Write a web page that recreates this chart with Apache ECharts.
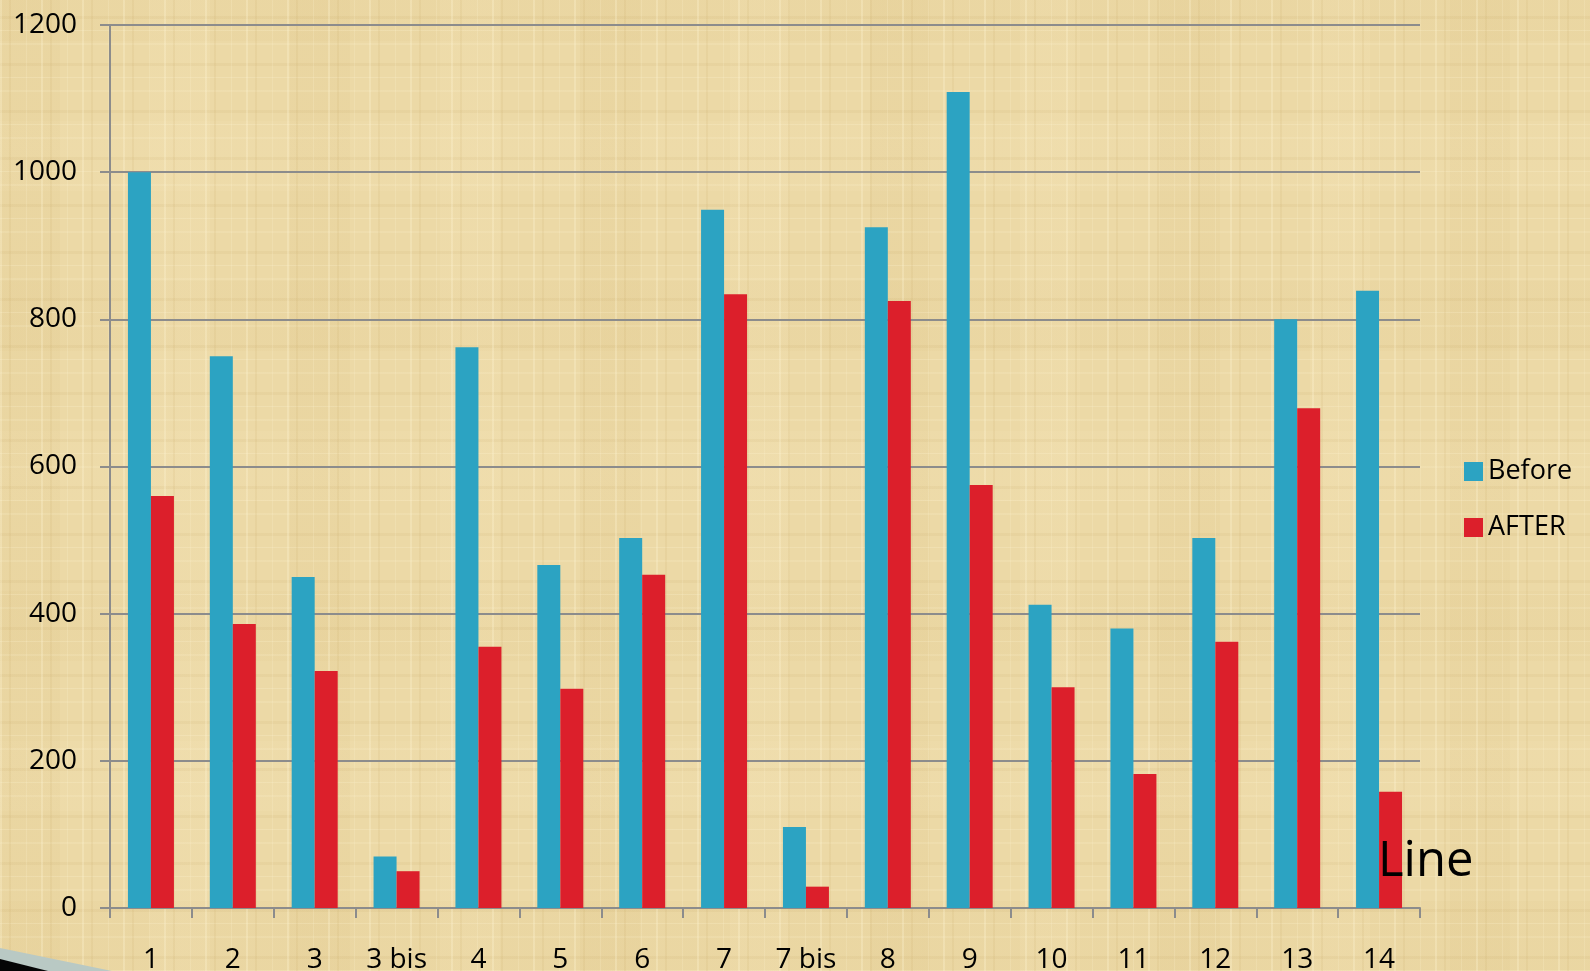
<!DOCTYPE html>
<html>
<head>
<meta charset="utf-8">
<script src="https://cdn.jsdelivr.net/npm/echarts@6/dist/echarts.min.js"></script>
<style>
  html, body { margin: 0; padding: 0; width: 1590px; height: 971px; overflow: hidden; }
  body {
    background-color: #ecd9a6;
    background-image:
      repeating-linear-gradient(90deg, rgba(255,246,214,0.28) 0 2px, transparent 2px 9px, rgba(196,164,96,0.12) 9px 11px, transparent 11px 26px, rgba(255,246,214,0.18) 26px 27px, transparent 27px 41px),
      repeating-linear-gradient(0deg, rgba(255,246,214,0.22) 0 1px, transparent 1px 12px, rgba(190,158,92,0.10) 12px 15px, transparent 15px 33px, rgba(255,246,214,0.15) 33px 35px, transparent 35px 47px),
      repeating-linear-gradient(90deg, rgba(214,186,120,0.10) 0 60px, transparent 60px 150px, rgba(250,235,195,0.12) 150px 210px, transparent 210px 290px),
      repeating-linear-gradient(0deg, rgba(214,186,120,0.08) 0 70px, transparent 70px 160px, rgba(250,235,195,0.10) 160px 230px, transparent 230px 310px);
  }
  #chart { width: 1590px; height: 971px; }
</style>
</head>
<body>
<div id="chart"></div>
<script>
// Line numbers on the category axis
const categories = ['1', '2', '3', '3 bis', '4', '5', '6', '7', '7 bis', '8', '9', '10', '11', '12', '13', '14'];
// Measured values before and after the change
const beforeValues = [1000, 750, 450, 70, 762, 466, 503, 949, 110, 925, 1109, 412, 380, 503, 800, 839];
const afterValues = [560, 386, 322, 50, 355, 298, 453, 834, 29, 825, 575, 300, 182, 362, 679, 158];
const seriesNames = ['Before', 'AFTER'];
const yTicks = { min: 0, max: 1200, interval: 200 };

const FONT = '"Open Sans", "Noto Sans", sans-serif';
const AXIS_GRAY = '#8c8c8c';

const chart = echarts.init(document.getElementById('chart'), null, { renderer: 'canvas' });

chart.setOption({
  backgroundColor: 'transparent',
  animation: false,
  textStyle: { fontFamily: FONT },
  grid: { left: 110, right: 170, top: 25, bottom: 63, containLabel: false, outerBoundsMode: 'none' },
  legend: {
    data: seriesNames,
    orient: 'vertical',
    left: 1464,
    top: 457,
    padding: 0,
    icon: 'rect',
    itemWidth: 19,
    itemHeight: 19,
    itemGap: 27,
    itemTextGap: 8,
    textStyle: { fontFamily: FONT, fontSize: 27, color: '#000', lineHeight: 29 }
  },
  xAxis: {
    type: 'category',
    data: categories,
    boundaryGap: true,
    axisLine: { lineStyle: { color: AXIS_GRAY, width: 2 } },
    axisTick: { show: true, length: 10, alignWithLabel: false, lineStyle: { color: AXIS_GRAY, width: 2 } },
    axisLabel: { fontFamily: FONT, fontSize: 28, color: '#000', margin: 38, interval: 0 },
    splitLine: { show: false }
  },
  yAxis: {
    type: 'value',
    min: yTicks.min,
    max: yTicks.max,
    interval: yTicks.interval,
    axisLine: { show: true, lineStyle: { color: AXIS_GRAY, width: 2 } },
    axisTick: { show: true, length: 10, lineStyle: { color: AXIS_GRAY, width: 2 } },
    axisLabel: { fontFamily: FONT, fontSize: 28, color: '#000', margin: 33, formatter: v => String(v) },
    splitLine: { show: true, lineStyle: { color: AXIS_GRAY, width: 2 } }
  },
  series: [
    {
      name: seriesNames[0],
      type: 'bar',
      data: beforeValues,
      barWidth: 23,
      barGap: '0%',
      itemStyle: { color: '#2ca3c2' }
    },
    {
      name: seriesNames[1],
      type: 'bar',
      data: afterValues,
      barWidth: 23,
      barGap: '0%',
      itemStyle: { color: '#dc1f2b' }
    }
  ],
  graphic: [
    {
      type: 'text',
      left: 1378,
      top: 838,
      z: 100,
      style: { text: 'Line', font: '49px ' + FONT, fill: '#000' }
    },
    {
      // slide corner decoration, bottom-left
      type: 'polygon',
      z: 50,
      shape: { points: [[0, 948], [112, 971], [0, 971]] },
      style: { fill: '#b9c9c4' }
    },
    {
      type: 'polygon',
      z: 51,
      shape: { points: [[0, 959], [48, 971], [0, 971]] },
      style: { fill: '#050505' }
    }
  ]
});
</script>
</body>
</html>
